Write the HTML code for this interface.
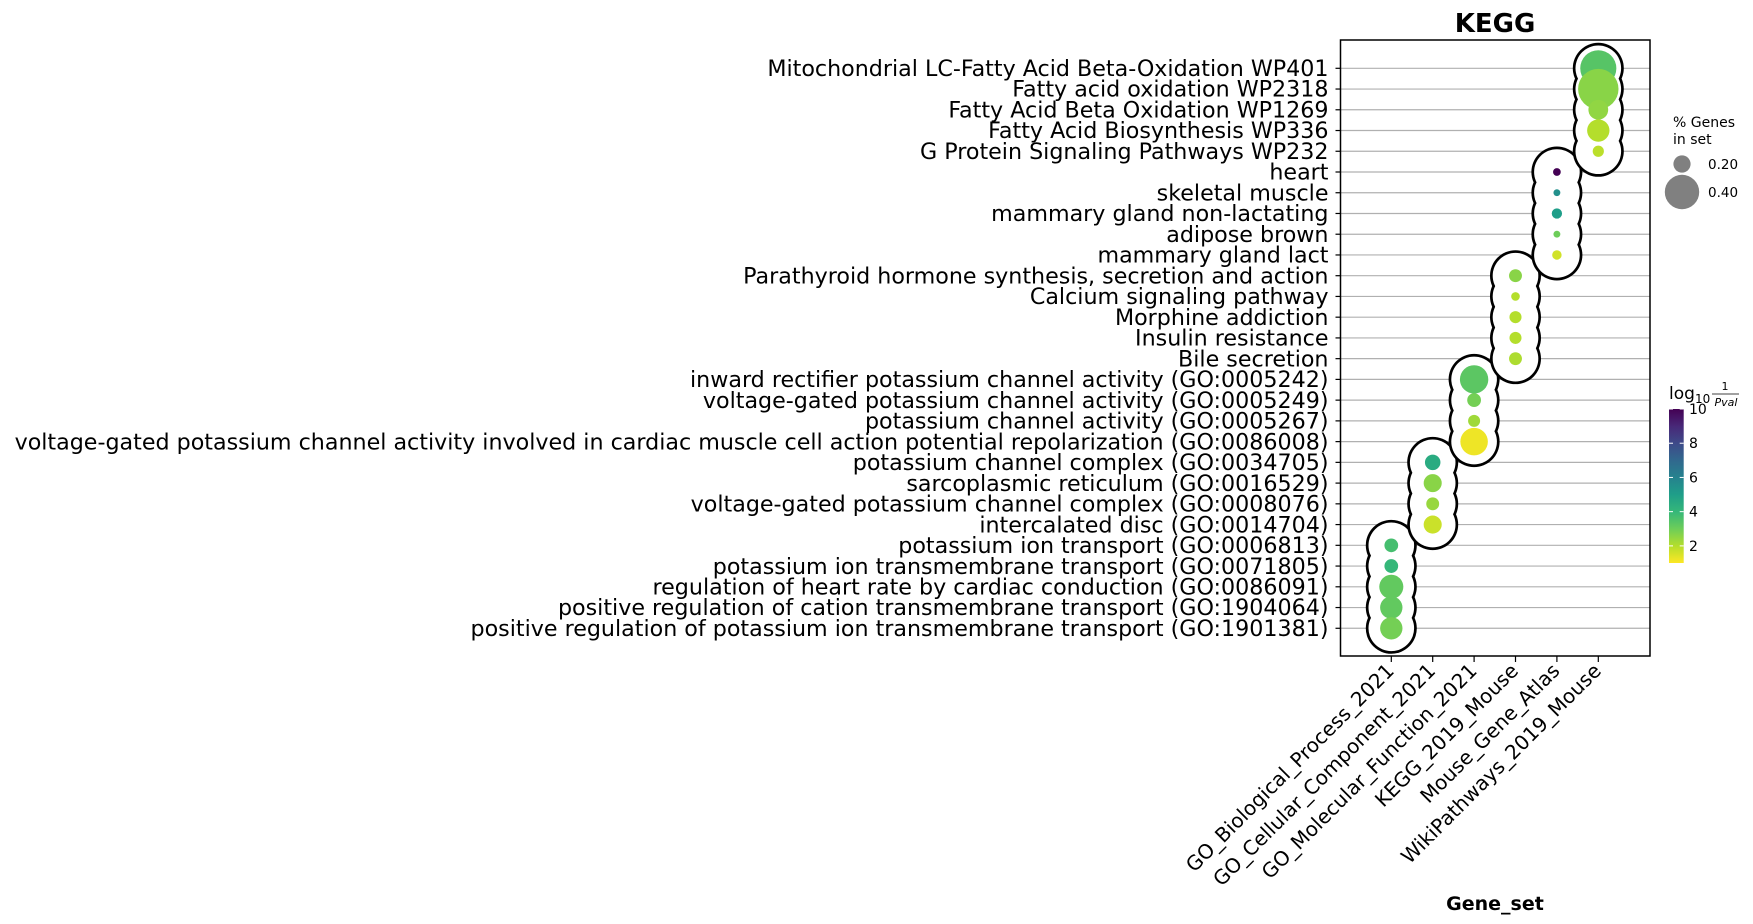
<!DOCTYPE html>
<html><head><meta charset="utf-8"><style>
html,body{margin:0;padding:0;background:#fff;}
svg{display:block;font-family:"DejaVu Sans","Liberation Sans",sans-serif;}
</style></head><body>
<svg id="chart" width="1753" height="924" viewBox="0 0 1753 924" xmlns="http://www.w3.org/2000/svg">
<text x="1495" y="32" text-anchor="middle" font-size="26" font-weight="bold">KEGG</text>
<g id="grid"></g><g id="blobs"></g><g id="dots"></g><g id="axes"></g><g id="legend"></g>
<text x="1495" y="910" text-anchor="middle" font-size="19" font-weight="bold">Gene_set</text>
</svg>
<script>
const terms = ["Mitochondrial LC-Fatty Acid Beta-Oxidation WP401","Fatty acid oxidation WP2318","Fatty Acid Beta Oxidation WP1269","Fatty Acid Biosynthesis WP336","G Protein Signaling Pathways WP232","heart","skeletal muscle","mammary gland non-lactating","adipose brown","mammary gland  lact","Parathyroid hormone synthesis, secretion and action","Calcium signaling pathway","Morphine addiction","Insulin resistance","Bile secretion","inward rectifier potassium channel activity (GO:0005242)","voltage-gated potassium channel activity (GO:0005249)","potassium channel activity (GO:0005267)","voltage-gated potassium channel activity involved in cardiac muscle cell action potential repolarization (GO:0086008)","potassium channel complex (GO:0034705)","sarcoplasmic reticulum (GO:0016529)","voltage-gated potassium channel complex (GO:0008076)","intercalated disc (GO:0014704)","potassium ion transport (GO:0006813)","potassium ion transmembrane transport (GO:0071805)","regulation of heart rate by cardiac conduction (GO:0086091)","positive regulation of cation transmembrane transport (GO:1904064)","positive regulation of potassium ion transmembrane transport (GO:1901381)"];
const geneSets = ["GO_Biological_Process_2021","GO_Cellular_Component_2021","GO_Molecular_Function_2021","KEGG_2019_Mouse","Mouse_Gene_Atlas","WikiPathways_2019_Mouse"];
const termSet = [5,5,5,5,5,4,4,4,4,4,3,3,3,3,3,2,2,2,2,1,1,1,1,0,0,0,0,0];
const pctGenes = [0.42,0.47,0.23,0.26,0.13,0.09,0.08,0.12,0.08,0.11,0.15,0.10,0.14,0.14,0.15,0.33,0.16,0.14,0.32,0.18,0.21,0.15,0.21,0.16,0.16,0.28,0.26,0.26];
const logP = [3.4,2.6,2.5,2.0,1.9,10,5.5,5.0,3.0,1.6,2.6,2.0,2.0,2.0,2.1,3.3,2.9,2.3,1.2,4.5,2.6,2.4,1.7,3.7,4.0,3.2,3.2,2.9];
const colorTicks = [2,4,6,8,10];
const sizeLegend = [0.20,0.40];

const NS="http://www.w3.org/2000/svg";
const L=1340.5,R=1650,T=40,B=656;
const y0=68.3,dy=20.74,x0=1391.3,dx=41.4;
const yS=i=>y0+i*dy, xS=j=>x0+j*dx, rS=p=>43*p;
const cMin=1,cMax=10,cbT=409,cbB=563;
const cY=v=>cbB-(v-cMin)/(cMax-cMin)*(cbB-cbT);
const vir=[[68,1,84],[72,40,120],[62,74,137],[49,104,142],[38,130,142],[31,158,137],[53,183,121],[109,205,89],[180,222,44],[253,231,37]];
function color(v){const t=Math.max(0,Math.min(1,(cMax-v)/(cMax-cMin)));const f=t*9,i=Math.min(8,Math.floor(f)),u=f-i;const a=vir[i],b=vir[i+1];return `rgb(${a.map((c,k)=>Math.round(c+(b[k]-c)*u)).join(',')})`;}
function el(tag,attrs,parent){const e=document.createElementNS(NS,tag);for(const k in attrs)e.setAttribute(k,attrs[k]);parent.appendChild(e);return e;}
const grid=document.getElementById('grid'),blobs=document.getElementById('blobs'),dots=document.getElementById('dots'),axes=document.getElementById('axes'),legend=document.getElementById('legend');
terms.forEach((t,i)=>{
  const g=el('line',{x1:L,x2:R,y1:yS(i),y2:yS(i),stroke:'#b0b0b0','stroke-width':1.2},grid);
  
  
  const tk=el('line',{x1:L-5,x2:L,y1:yS(i),y2:yS(i),stroke:'#000','stroke-width':1.2},axes);
  
  
  const tx=el('text',{x:L-12,y:yS(i)+7.7,'text-anchor':'end','font-size':22.2,fill:'#000'},axes);
  tx.textContent=t;
  
  
});
for(let s=0;s<geneSets.length;s++){
  const idx=termSet.map((v,i)=>v===s?i:-1).filter(i=>i>=0);
  const g=el('g',{},blobs);
  
  
  idx.forEach(i=>el('circle',{cx:xS(s),cy:yS(i),r:25.5,fill:'#000'},g));
  idx.forEach(i=>el('circle',{cx:xS(s),cy:yS(i),r:22.8,fill:'#fff'},g));
}
terms.forEach((t,i)=>{
  const c=el('circle',{cx:xS(termSet[i]),cy:yS(i),r:rS(pctGenes[i]),fill:color(logP[i])},dots);
  
  
});
const fr=el('rect',{x:L,y:T,width:R-L,height:B-T,fill:'none',stroke:'#000','stroke-width':1.5},axes);


geneSets.forEach((g,j)=>{
  const tk=el('line',{x1:xS(j),x2:xS(j),y1:B,y2:B+6,stroke:'#000','stroke-width':1.2},axes);
  
  
  const tx=el('text',{x:xS(j)+4,y:B+16,'text-anchor':'end','font-size':20,transform:`rotate(-45 ${xS(j)+4} ${B+16})`},axes);
  tx.textContent=g;
  
  
});
let t1=el('text',{x:1673,y:127,'font-size':14},legend);t1.textContent='% Genes';


let t2=el('text',{x:1673,y:144,'font-size':14},legend);t2.textContent='in set';


const ly=[164,192];
sizeLegend.forEach((p,k)=>{
  const c=el('circle',{cx:1682,cy:ly[k],r:rS(p),fill:'#808080'},legend);
  
  
  const t=el('text',{x:1708,y:ly[k]+5,'font-size':13.5},legend);t.textContent=p.toFixed(2);
  
  
});
const defs=el('defs',{},legend);
const grad=el('linearGradient',{id:'vg',x1:0,y1:1,x2:0,y2:0},defs);
vir.slice().reverse().forEach((c,k)=>el('stop',{offset:k/9,'stop-color':`rgb(${c.join(',')})`},grad));
const cb=el('rect',{x:1669,y:cbT,width:14.7,height:cbB-cbT,fill:'url(#vg)'},legend);


colorTicks.forEach(v=>{
  const yy=cY(v);
  const l=el('line',{x1:1669,x2:1673,y1:yy,y2:yy,stroke:'#fff','stroke-width':1},legend);
  
  
  const l2=el('line',{x1:1679.7,x2:1683.7,y1:yy,y2:yy,stroke:'#fff','stroke-width':1},legend);
  
  
  const t=el('text',{x:1689,y:yy+5,'font-size':14},legend);t.textContent=v;
  
  
});
const ct=el('text',{x:1669,y:399,'font-size':17},legend);
ct.textContent='log';


const cs=el('text',{x:1695,y:403,'font-size':12},legend);
cs.textContent='10';


const n1=el('text',{x:1725,y:390,'font-size':11,'text-anchor':'middle'},legend);n1.textContent='1';


el('line',{x1:1712,x2:1739,y1:394,y2:394,stroke:'#000','stroke-width':0.8},legend);
const n2=el('text',{x:1726,y:406,'font-size':11,'text-anchor':'middle','font-style':'italic'},legend);n2.textContent='Pval';


</script>
</body></html>
